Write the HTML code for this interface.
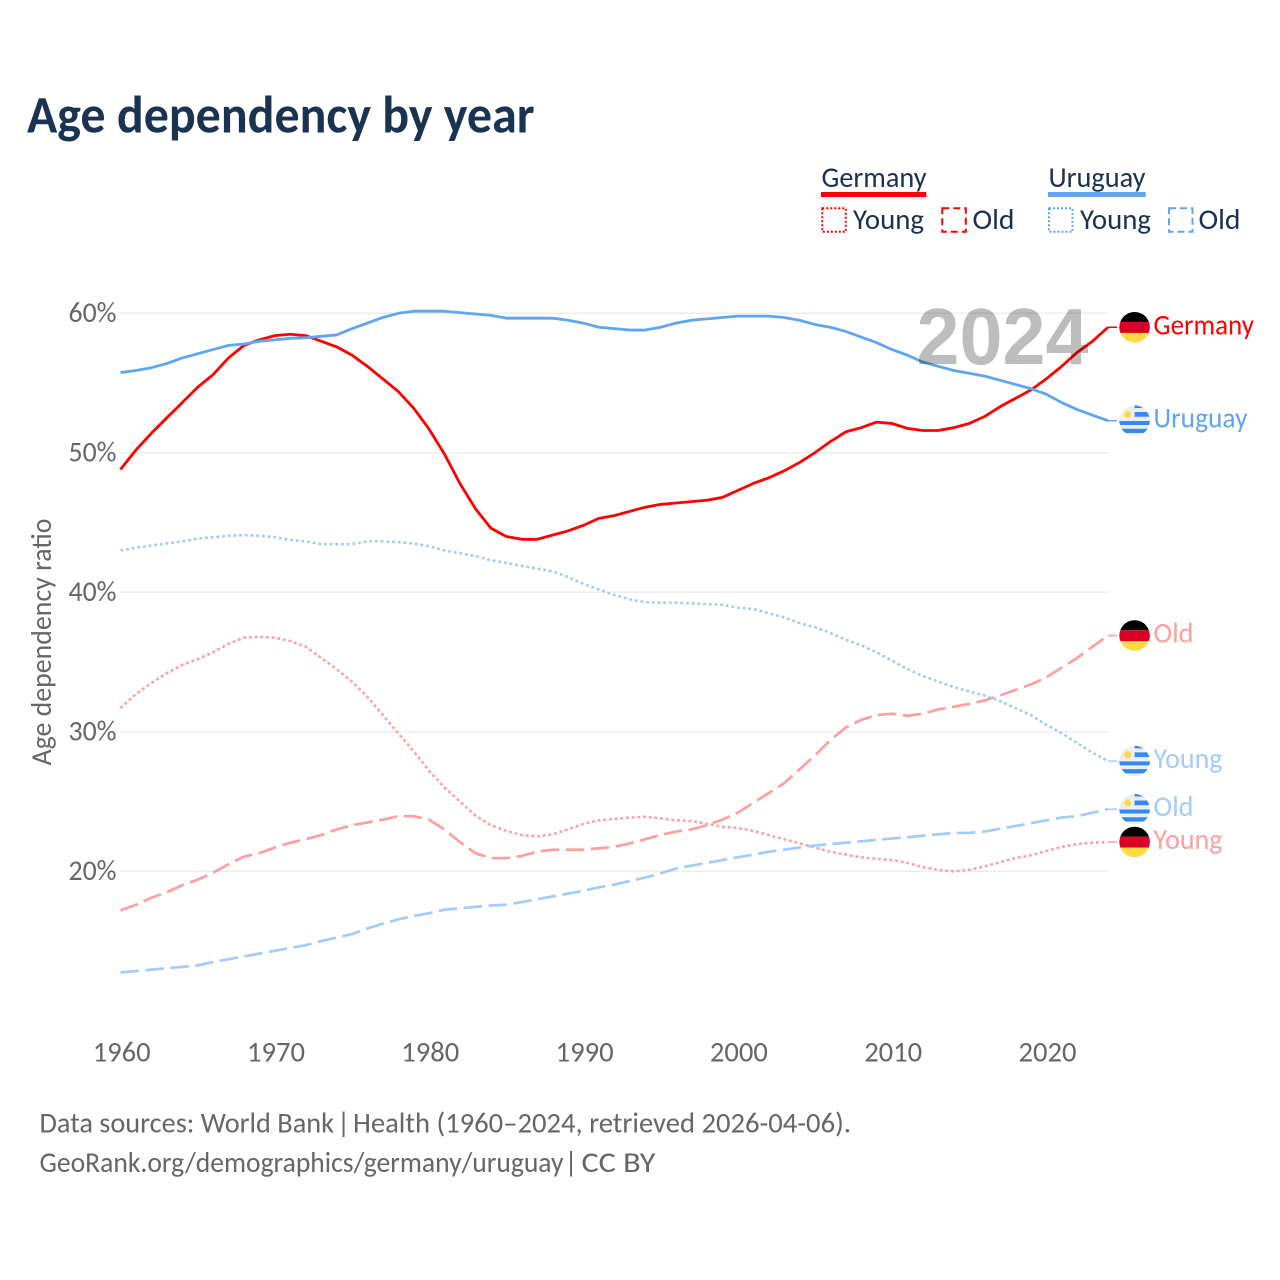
<!DOCTYPE html>
<html lang="en">
<head>
<meta charset="utf-8">
<title>Age dependency by year</title>
<style>
html,body{margin:0;padding:0;background:#fff;}
svg{display:block;}
text{font-family:"Carlito","Lato","Liberation Sans",sans-serif;}
</style>
</head>
<body>
<svg id="chart" xmlns="http://www.w3.org/2000/svg" width="1280" height="1280" viewBox="0 0 1280 1280">
  <defs>
    <clipPath id="flag-clip"><circle cx="0" cy="0" r="15.3"/></clipPath>
    <symbol id="flag-germany" overflow="visible">
      <g clip-path="url(#flag-clip)">
        <rect x="-16" y="-16" width="32" height="10.7" fill="#000"/>
        <rect x="-16" y="-5.3" width="32" height="11" fill="#d80027"/>
        <rect x="-16" y="5.7" width="32" height="10.3" fill="#ffda44"/>
      </g>
    </symbol>
    <symbol id="flag-uruguay" overflow="visible">
      <g clip-path="url(#flag-clip)">
        <rect x="-16" y="-16" width="32" height="32" fill="#eeeeee"/>
        <rect x="0" y="-16" width="16" height="3.3" fill="#338af3"/>
        <rect x="0" y="-8.7" width="16" height="4.7" fill="#338af3"/>
        <rect x="-16" y="0.3" width="32" height="4" fill="#338af3"/>
        <rect x="-16" y="8" width="32" height="4.3" fill="#338af3"/>
        <circle cx="-7" cy="-6.3" r="3.5" fill="#ffda44"/>
      </g>
    </symbol>
  </defs>

  <text x="27" y="132.5" font-size="53" font-weight="700" fill="#1a3353" textLength="507.5" lengthAdjust="spacingAndGlyphs">Age dependency by year</text>

  <g font-size="29" fill="#1a3152">
    <g>
      <text x="821.5" y="187" textLength="105" lengthAdjust="spacingAndGlyphs">Germany</text>
      <rect x="821" y="192" width="105.3" height="5" fill="#ff0000"/>
      <rect x="822.3" y="208.3" width="23.5" height="23.5" fill="none" stroke="#ff0000" stroke-width="2" stroke-dasharray="2 2"/>
      <text x="853" y="229" textLength="71" lengthAdjust="spacingAndGlyphs">Young</text>
      <rect x="942.3" y="208.3" width="23.5" height="23.5" fill="none" stroke="#ff0000" stroke-width="2" stroke-dasharray="7 4"/>
      <text x="972.5" y="229" textLength="42" lengthAdjust="spacingAndGlyphs">Old</text>
    </g>
    <g>
      <text x="1048.5" y="187" textLength="97" lengthAdjust="spacingAndGlyphs">Uruguay</text>
      <rect x="1048" y="192" width="97.7" height="5" fill="#5fa5ef"/>
      <rect x="1049" y="208.3" width="23.5" height="23.5" fill="none" stroke="#5fa5ef" stroke-width="2" stroke-dasharray="2 2"/>
      <text x="1080" y="229" textLength="71" lengthAdjust="spacingAndGlyphs">Young</text>
      <rect x="1169" y="208.3" width="23.5" height="23.5" fill="none" stroke="#5fa5ef" stroke-width="2" stroke-dasharray="7 4"/>
      <text x="1198.5" y="229" textLength="42" lengthAdjust="spacingAndGlyphs">Old</text>
    </g>
  </g>

  <g id="grid"></g>
  <g id="y-ticks"></g>
  <g id="x-ticks"></g>
  <text transform="translate(51 642) rotate(-90)" text-anchor="middle" font-size="28.5" fill="#666666" textLength="247" lengthAdjust="spacingAndGlyphs">Age dependency ratio</text>
  <g id="series"></g>
  <text x="916.5" y="364" style="font-family:'Liberation Sans',Arial,sans-serif" font-size="80" font-weight="700" fill="#000000" fill-opacity="0.26" textLength="172" lengthAdjust="spacingAndGlyphs">2024</text>
  <g id="end-labels"></g>

  <g font-size="29" fill="#666666">
    <text x="39.5" y="1132.7" textLength="294.5" lengthAdjust="spacingAndGlyphs">Data sources: World Bank</text>
    <text x="343.5" y="1132.7" text-anchor="middle">|</text>
    <text x="353" y="1132.7" textLength="498" lengthAdjust="spacingAndGlyphs">Health (1960–2024, retrieved 2026-04-06).</text>
    <text x="39.5" y="1172" textLength="524" lengthAdjust="spacingAndGlyphs">GeoRank.org/demographics/germany/uruguay</text>
    <text x="571" y="1172" text-anchor="middle">|</text>
    <text x="581.5" y="1172" textLength="74" lengthAdjust="spacingAndGlyphs">CC BY</text>
  </g>
</svg>

<script>
var startYear = 1960;
var xTickLabels = [1960, 1970, 1980, 1990, 2000, 2010, 2020];
var yTickLabels = [20, 30, 40, 50, 60];

var germanyTotal = [48.8,50.2,51.4,52.5,53.6,54.7,55.6,56.8,57.7,58.1,58.4,58.5,58.4,58.0,57.6,57.0,56.2,55.3,54.4,53.2,51.7,49.9,47.8,46.0,44.6,44.0,43.8,43.8,44.1,44.4,44.8,45.3,45.5,45.8,46.1,46.3,46.4,46.5,46.6,46.8,47.3,47.8,48.2,48.7,49.3,50.0,50.8,51.5,51.8,52.2,52.1,51.75,51.6,51.6,51.8,52.1,52.6,53.3,53.9,54.5,55.3,56.2,57.2,58.0,59.0];
var uruguayTotal = [55.75,55.9,56.1,56.4,56.8,57.1,57.4,57.7,57.8,58.0,58.1,58.2,58.25,58.35,58.45,58.9,59.3,59.7,60.0,60.15,60.15,60.15,60.05,59.95,59.85,59.65,59.65,59.65,59.65,59.5,59.3,59.0,58.9,58.8,58.8,59.0,59.3,59.5,59.6,59.7,59.8,59.8,59.8,59.7,59.5,59.2,59.0,58.7,58.3,57.9,57.4,57.0,56.5,56.2,55.9,55.7,55.5,55.2,54.9,54.6,54.2,53.6,53.1,52.7,52.3];
var uruguayYoung = [43.0,43.2,43.35,43.5,43.65,43.85,43.95,44.05,44.1,44.05,43.95,43.75,43.65,43.45,43.45,43.45,43.65,43.65,43.6,43.5,43.3,43.0,42.8,42.6,42.3,42.1,41.9,41.7,41.5,41.1,40.6,40.2,39.8,39.5,39.3,39.25,39.25,39.2,39.15,39.1,38.9,38.8,38.5,38.2,37.8,37.5,37.1,36.6,36.2,35.7,35.1,34.5,34.0,33.6,33.2,32.9,32.6,32.2,31.7,31.2,30.5,29.9,29.2,28.5,27.9];
var germanyYoung = [31.7,32.7,33.5,34.2,34.8,35.2,35.7,36.3,36.75,36.8,36.75,36.5,36.1,35.3,34.5,33.6,32.5,31.2,29.9,28.6,27.2,26.0,25.0,24.0,23.3,22.9,22.6,22.5,22.65,23.0,23.4,23.65,23.75,23.85,23.9,23.8,23.65,23.6,23.4,23.2,23.1,22.9,22.6,22.3,22.0,21.7,21.4,21.2,21.0,20.9,20.8,20.6,20.3,20.1,20.0,20.1,20.35,20.65,20.95,21.15,21.45,21.75,21.95,22.05,22.1];
var germanyOld = [17.2,17.6,18.1,18.5,19.0,19.4,19.9,20.5,21.05,21.3,21.7,22.05,22.3,22.6,23.0,23.3,23.5,23.7,23.95,23.95,23.7,23.0,22.1,21.3,20.95,20.95,21.1,21.4,21.55,21.55,21.55,21.65,21.75,22.0,22.3,22.6,22.85,23.0,23.3,23.7,24.2,24.9,25.6,26.3,27.3,28.3,29.4,30.3,30.85,31.2,31.3,31.15,31.3,31.6,31.8,32.0,32.25,32.6,33.0,33.4,33.9,34.6,35.3,36.1,36.9];
var uruguayOld = [12.75,12.85,12.95,13.05,13.15,13.25,13.5,13.7,13.9,14.1,14.3,14.5,14.7,15.0,15.25,15.5,15.9,16.25,16.55,16.8,17.0,17.25,17.35,17.45,17.55,17.6,17.8,18.0,18.2,18.4,18.6,18.85,19.05,19.3,19.55,19.85,20.2,20.4,20.6,20.8,21.0,21.2,21.4,21.55,21.7,21.85,21.95,22.05,22.15,22.25,22.35,22.45,22.55,22.65,22.75,22.75,22.85,23.05,23.25,23.45,23.65,23.85,23.95,24.2,24.45];

function xScale(year) { return 120.5 + (year - 1960) * 15.43; }
function yScale(pct) { return 871.3 - (pct - 20) * 13.95; }

var NS = 'http://www.w3.org/2000/svg';
function make(parent, tag) {
  var el = document.createElementNS(NS, tag);
  parent.appendChild(el);
  return el;
}

var gridGroup = document.getElementById('grid');
var yTickGroup = document.getElementById('y-ticks');
yTickLabels.forEach(function (t) {
  var line = make(gridGroup, 'line');
  
  
  line.setAttribute('x1', 120);
  line.setAttribute('x2', 1109);
  line.setAttribute('y1', yScale(t));
  line.setAttribute('y2', yScale(t));
  line.setAttribute('stroke', '#eeeeee');
  line.setAttribute('stroke-width', 1.5);

  var label = make(yTickGroup, 'text');
  
  
  label.setAttribute('x', 116.5);
  label.setAttribute('y', yScale(t) + 8.5);
  label.setAttribute('text-anchor', 'end');
  label.setAttribute('font-size', 29);
  label.setAttribute('fill', '#666666');
  label.setAttribute('textLength', 48);
  label.setAttribute('lengthAdjust', 'spacingAndGlyphs');
  label.textContent = t + '%';
});

var xTickGroup = document.getElementById('x-ticks');
xTickLabels.forEach(function (t) {
  var label = make(xTickGroup, 'text');
  
  
  label.setAttribute('x', xScale(t) + 1.2);
  label.setAttribute('y', 1061.5);
  label.setAttribute('text-anchor', 'middle');
  label.setAttribute('font-size', 29);
  label.setAttribute('fill', '#666666');
  label.setAttribute('textLength', 58);
  label.setAttribute('lengthAdjust', 'spacingAndGlyphs');
  label.textContent = t;
});

function drawSeries(name, values, color, width, dash, labelText, flag, labelWidth) {
  var group = document.getElementById('series');
  var d = values.map(function (v, i) {
    return (i ? 'L' : 'M') + xScale(startYear + i).toFixed(2) + ' ' + yScale(v).toFixed(2);
  }).join(' ');
  var path = make(group, 'path');
  
  
  path.setAttribute('d', d);
  path.setAttribute('fill', 'none');
  path.setAttribute('stroke', color);
  path.setAttribute('stroke-width', width);
  path.setAttribute('stroke-linejoin', 'round');
  if (dash) { path.setAttribute('stroke-dasharray', dash); }

  var lastYear = startYear + values.length - 1;
  var lastX = xScale(lastYear);
  var lastY = yScale(values[values.length - 1]);
  var endGroup = document.getElementById('end-labels');

  var tail = make(endGroup, 'line');
  
  
  tail.setAttribute('x1', lastX);
  tail.setAttribute('x2', lastX + 9);
  tail.setAttribute('y1', lastY);
  tail.setAttribute('y2', lastY);
  tail.setAttribute('stroke', color);
  tail.setAttribute('stroke-width', 1.5);

  var icon = make(endGroup, 'use');
  
  
  icon.setAttribute('href', '#' + flag);
  icon.setAttribute('x', 1134.6);
  icon.setAttribute('y', lastY);

  var label = make(endGroup, 'text');
  
  
  label.setAttribute('x', 1153.5);
  label.setAttribute('y', lastY + 7);
  label.setAttribute('font-size', 28.5);
  label.setAttribute('fill', color);
  label.setAttribute('textLength', labelWidth);
  label.setAttribute('lengthAdjust', 'spacingAndGlyphs');
  label.textContent = labelText;
}

drawSeries('germany-young', germanyYoung, '#ff9f9f', 2.6, '2.8 2.9', 'Young', 'flag-germany', 69);
drawSeries('germany-old', germanyOld, '#ff9f9f', 2.7, '18.5 6.5', 'Old', 'flag-germany', 40);
drawSeries('uruguay-young', uruguayYoung, '#a3ccf6', 2.6, '2.8 2.9', 'Young', 'flag-uruguay', 69);
drawSeries('uruguay-old', uruguayOld, '#a3ccf6', 2.7, '18.5 6.5', 'Old', 'flag-uruguay', 40);
drawSeries('germany-total', germanyTotal, '#ff0000', 2.8, null, 'Germany', 'flag-germany', 100.5);
drawSeries('uruguay-total', uruguayTotal, '#5fa5ef', 2.8, null, 'Uruguay', 'flag-uruguay', 94);
</script>
</body>
</html>
